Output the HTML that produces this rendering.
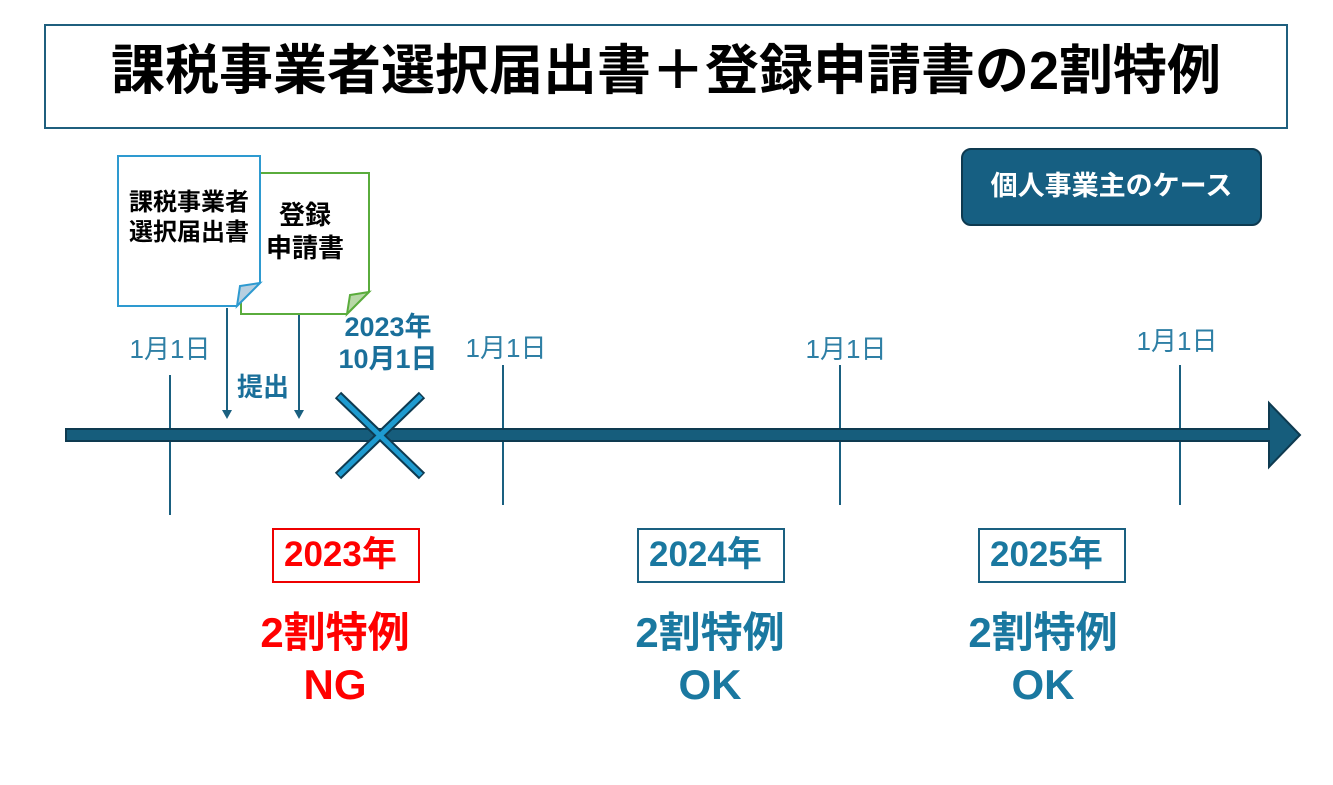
<!DOCTYPE html>
<html><head><meta charset="utf-8"><style>
body{margin:0;width:1333px;height:785px;background:#fff;position:relative;overflow:hidden;font-family:"Liberation Sans","Noto Sans CJK JP",sans-serif}
.a{position:absolute}
.t{position:absolute;white-space:nowrap;text-align:center;transform:translateX(-50%)}
</style></head><body>
<div class="a" style="left:44px;top:24px;width:1240px;height:101px;border:2px solid #1f5f7e"></div>
<div class="t" style="left:666px;top:40px;font-size:54px;font-weight:bold;color:#000;line-height:62px">課税事業者選択届出書＋登録申請書の2割特例</div>
<div class="a" style="left:961px;top:148px;width:297px;height:74px;background:#165f82;border:2px solid #0e3a50;border-radius:10px;color:#fff;font-size:27px;font-weight:bold;text-align:center;line-height:72px">個人事業主のケース</div>
<svg class="a" style="left:0;top:0" width="1333" height="785">
<path d="M241 173H369V292L347 314H241Z" fill="#fff" stroke="#5aac3c" stroke-width="2"/>
<path d="M347 314L350 295L369 292Z" fill="#b8d8a8" stroke="#5aac3c" stroke-width="2"/>
<path d="M118 156H260V283L237 306H118Z" fill="#fff" stroke="#2e9ad0" stroke-width="2"/>
<path d="M237 306L240 286L260 283Z" fill="#b7cfe0" stroke="#2e9ad0" stroke-width="2"/>
<g stroke="#1a6080" stroke-width="2"><line x1="170" y1="375" x2="170" y2="515"/><line x1="503" y1="365" x2="503" y2="505"/><line x1="840" y1="365" x2="840" y2="505"/><line x1="1180" y1="365" x2="1180" y2="505"/>
<line x1="227" y1="308" x2="227" y2="412"/><line x1="299" y1="315" x2="299" y2="412"/></g>
<path d="M222 410h10l-5 9zM294 410h10l-5 9z" fill="#1a6080"/>
<path d="M66 429H1269V403L1300 435L1269 467V441H66Z" fill="#165d7c" stroke="#0e3a50" stroke-width="2"/>
<g stroke="#0e3a50" stroke-width="9" stroke-linecap="butt"><line x1="338" y1="395" x2="422" y2="476"/><line x1="422" y1="395" x2="338" y2="476"/></g>
<g stroke="#1e9bd0" stroke-width="5"><line x1="339" y1="396" x2="421" y2="475"/><line x1="421" y1="396" x2="339" y2="475"/></g>
</svg>
<div class="t" style="left:189px;top:188px;font-size:24px;font-weight:bold;line-height:30px">課税事業者<br>選択届出書</div>
<div class="t" style="left:305px;top:199px;font-size:26px;font-weight:bold;line-height:33px">登録<br>申請書</div>
<div class="t" style="left:170px;top:329px;font-size:26px;color:#2e7fa5">1月1日</div>
<div class="t" style="left:506px;top:328px;font-size:26px;color:#2e7fa5">1月1日</div>
<div class="t" style="left:846px;top:329px;font-size:26px;color:#2e7fa5">1月1日</div>
<div class="t" style="left:1177px;top:321px;font-size:26px;color:#2e7fa5">1月1日</div>
<div class="t" style="left:263px;top:367px;font-size:26px;font-weight:bold;color:#1a6f9a">提出</div>
<div class="t" style="left:388px;top:311px;font-size:27px;font-weight:bold;color:#1a6f9a;line-height:32px">2023年<br>10月1日</div>
<div class="a" style="left:272px;top:528px;border:2px solid #e00;color:#f00;font-size:35px;font-weight:bold;line-height:50px;padding-left:10px;box-sizing:border-box;width:148px;height:55px">2023年</div>
<div class="a" style="left:637px;top:528px;width:148px;height:55px;box-sizing:border-box;border:2px solid #1a6080;color:#1a78a0;font-size:35px;font-weight:bold;line-height:50px;padding-left:10px">2024年</div>
<div class="a" style="left:978px;top:528px;width:148px;height:55px;box-sizing:border-box;border:2px solid #1a6080;color:#1a78a0;font-size:35px;font-weight:bold;line-height:50px;padding-left:10px">2025年</div>
<div class="t" style="left:335px;top:607px;font-size:42px;font-weight:bold;color:#f00;line-height:52px">2割特例<br>NG</div>
<div class="t" style="left:710px;top:607px;font-size:42px;font-weight:bold;color:#1a78a0;line-height:52px">2割特例<br>OK</div>
<div class="t" style="left:1043px;top:607px;font-size:42px;font-weight:bold;color:#1a78a0;line-height:52px">2割特例<br>OK</div>
</body></html>
